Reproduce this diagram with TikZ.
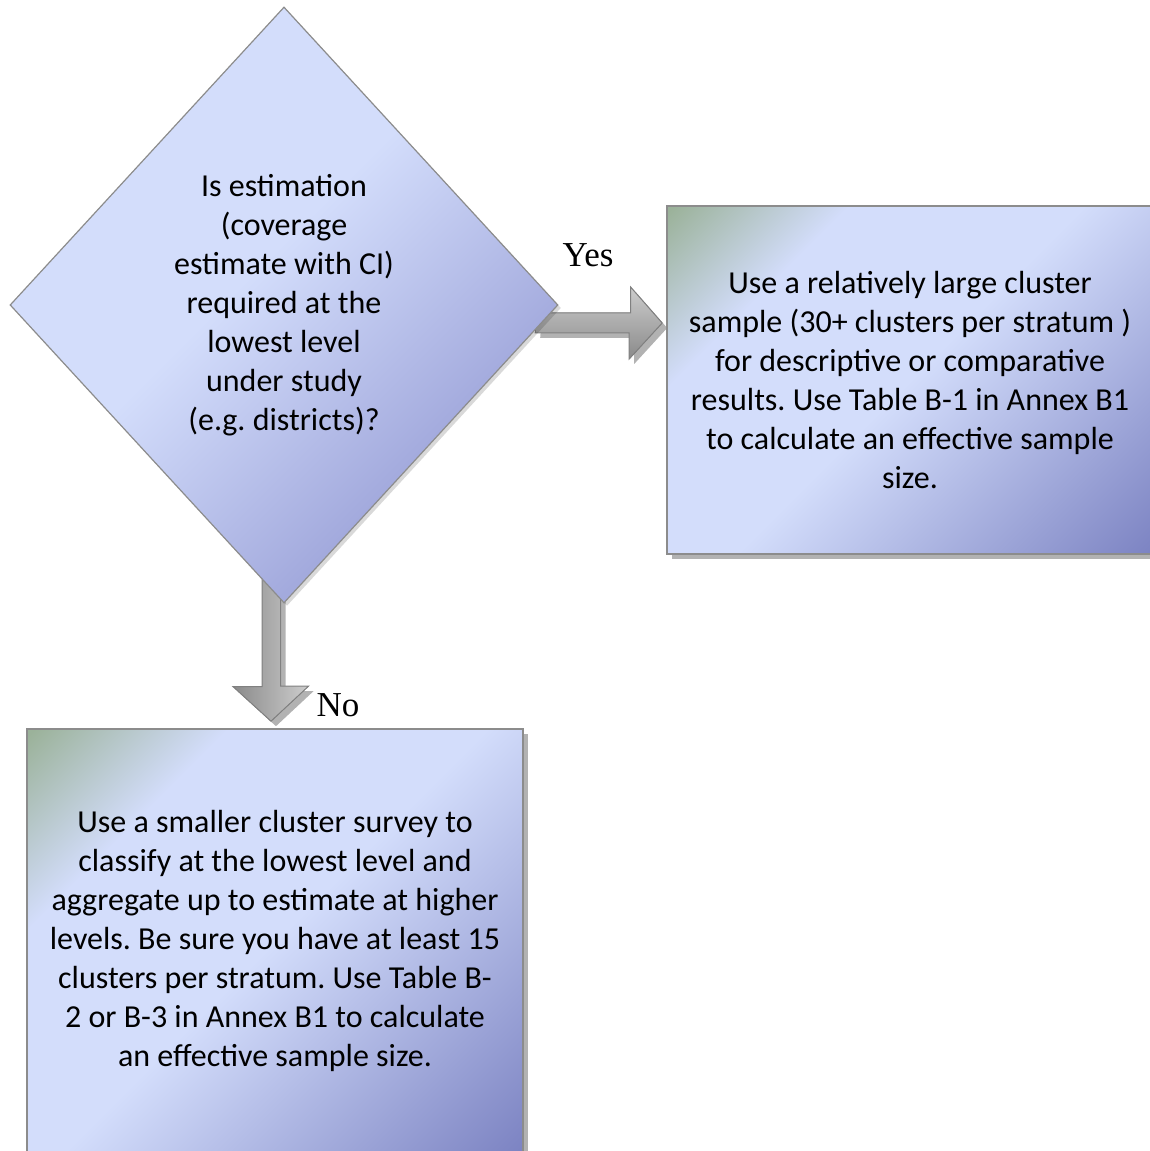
\documentclass[tikz,border=0pt]{standalone}
\usepackage{fontspec}
\setmainfont{Carlito}
\newfontfamily\labelfont{Liberation Serif}
\usetikzlibrary{shapes.geometric,shadows,calc,backgrounds}

\definecolor{lav}{HTML}{D3DDFB}
\definecolor{mossy}{HTML}{9BB29A}
\definecolor{deepblue}{HTML}{7D84C3}
\definecolor{diamdeep}{HTML}{A3AADD}
\definecolor{edgegray}{HTML}{8C8C8C}
\definecolor{arrowlight}{HTML}{CDCDCD}
\definecolor{arrowdark}{HTML}{8A8A8A}

\pgfdeclarehorizontalshading{boxshade}{100bp}{color(0bp)=(mossy); color(15bp)=(mossy); color(30bp)=(lav); color(50bp)=(lav); color(85bp)=(deepblue); color(100bp)=(deepblue)}
\pgfdeclarehorizontalshading{diamshade}{100bp}{color(0bp)=(lav); color(46bp)=(lav); color(68bp)=(diamdeep); color(100bp)=(diamdeep)}

\begin{document}
\frenchspacing
\begin{tikzpicture}[x=1pt, y=1pt,
    softshadow/.style={drop shadow={shadow xshift=5pt, shadow yshift=-5pt, fill=black, opacity=0.3}},
    question/.style={diamond, draw=edgegray, line width=1.2pt, shading=diamshade, shading angle=-45,
        minimum width=548pt, minimum height=596pt, inner sep=0pt, align=center,
        drop shadow={shadow xshift=3pt, shadow yshift=-3pt, fill=black, opacity=0.15},
        font=\fontsize{32}{39}\selectfont},
    answer/.style={rectangle, draw=edgegray, line width=1.6pt, shading=boxshade, shading angle=-45,
        inner sep=0pt, align=center, softshadow, font=\fontsize{32}{39}\selectfont},
    blockarrow/.style={draw=gray, line width=1pt, softshadow},
    branch/.style={font=\labelfont\fontsize{35}{40}\selectfont}]
    \useasboundingbox (0,0) rectangle (1150,1151);

    % Decision
    \node[question] (ask) at (284,846) {Is estimation\\(coverage\\estimate with CI)\\required at the\\lowest level\\under study\\(e.g. districts)?};

    % Outcomes
    \node[answer, minimum width=486pt, minimum height=348pt] (large) at (910,771)
        {Use a relatively large cluster\\sample (30+ clusters per stratum )\\for descriptive or comparative\\results. Use Table B-1 in Annex B1\\to calculate an effective sample\\size.};
    \node[answer, minimum width=496pt, minimum height=424pt] (small) at (275,210)
        {Use a smaller cluster survey to\\classify at the lowest level and\\aggregate up to estimate at higher\\levels. Be sure you have at least 15\\clusters per stratum. Use Table B-\\2 or B-3 in Annex B1 to calculate\\an effective sample size.};

    % Branch labels
    \node[branch] (yes) at (588,896) {Yes};
    \node[branch] (no) at (338,446) {No};

    % Arrows behind the shapes
    \coordinate (yesto) at ([xshift=-4pt,yshift=57pt]large.west);
    \coordinate (yesfrom) at ([xshift=-22pt]yesto -| ask.east);
    \coordinate (nofrom) at ([xshift=-13pt,yshift=28pt]ask.south);
    \coordinate (noto) at ([yshift=7pt]nofrom |- small.north);
    \begin{scope}[on background layer]
        \filldraw[blockarrow, top color=arrowlight, bottom color=arrowdark]
            (yesfrom) ++(0,10) -- ++(94,0) -- ++(0,26) -- (yesto) -- ++(-33,-36) -- ++(0,26) -- ++(-94,0) -- cycle;
        \filldraw[blockarrow, left color=arrowdark, right color=arrowlight]
            (nofrom) ++(-9,0) -- ++(0,-111) -- ++(-29,0) -- (noto) -- ++(37.5,35) -- ++(-28,0) -- ++(0,111) -- cycle;
    \end{scope}
\end{tikzpicture}
\end{document}
